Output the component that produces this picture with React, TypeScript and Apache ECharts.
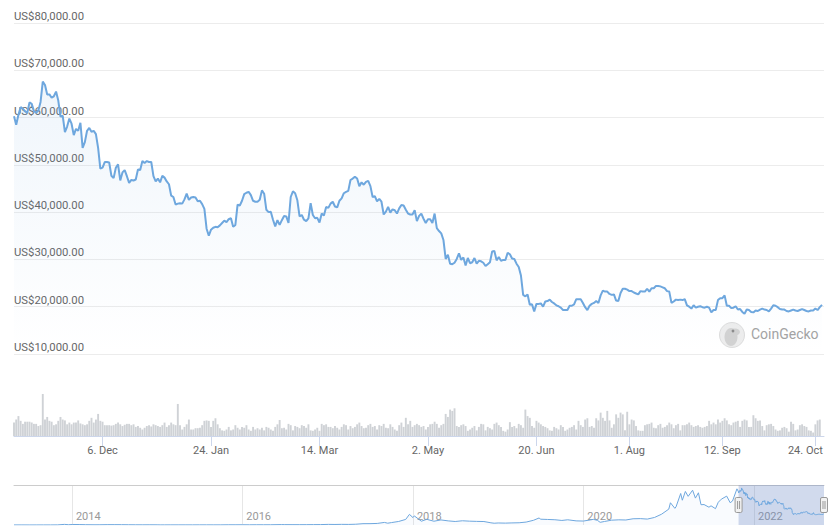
import React, { useEffect, useRef } from "react";
import * as echarts from "echarts";

// ---------- data ----------
const DAY = 86400000;
const startDate = "2021-10-27"; // first daily point
const endOffsetDays = 365.9; // axis end (latest price, late on 27 Oct 2022)

// daily BTC price in thousands USD, 27 Oct 2021 .. 27 Oct 2022
const priceK = [
  60.3, 58.5, 60.6, 62.2, 61.9, 61.3, 61.0, 63.2, 62.9, 61.4,
  61.0, 61.5, 63.3, 67.6, 66.9, 64.9, 64.9, 64.2, 64.5, 65.5,
  63.6, 60.2, 60.4, 56.9, 58.1, 59.8, 58.7, 56.3, 57.6, 57.2,
  58.9, 53.6, 54.8, 57.2, 57.8, 57.0, 57.2, 56.5, 53.6, 49.2,
  49.4, 50.6, 50.6, 50.5, 47.7, 47.2, 49.4, 50.1, 46.7, 48.4,
  48.9, 47.6, 46.2, 46.8, 46.7, 46.9, 49.0, 48.9, 50.8, 50.4,
  50.8, 50.6, 50.6, 47.6, 46.5, 47.1, 46.3, 47.7, 47.3, 46.5,
  45.9, 43.5, 43.2, 41.6, 41.8, 41.9, 41.8, 42.7, 43.9, 42.6,
  43.1, 43.2, 43.1, 42.3, 42.4, 41.7, 40.7, 36.5, 35.0, 36.3,
  36.7, 36.9, 36.8, 37.2, 37.7, 38.2, 37.9, 38.5, 38.7, 36.9,
  37.3, 41.6, 41.4, 42.4, 43.8, 44.1, 44.3, 43.6, 42.4, 42.2,
  42.2, 42.6, 44.6, 43.9, 40.5, 40.0, 40.1, 38.4, 37.0, 38.3,
  37.3, 38.3, 39.2, 39.1, 37.7, 43.2, 44.4, 44.0, 42.5, 39.1,
  39.4, 38.4, 38.1, 38.7, 41.9, 39.4, 38.7, 38.8, 37.8, 39.7,
  39.3, 41.1, 40.9, 41.8, 42.2, 41.2, 41.0, 42.4, 42.9, 44.0,
  44.3, 44.5, 46.8, 47.1, 47.5, 47.1, 45.5, 46.3, 45.8, 46.4,
  46.6, 45.5, 43.2, 43.4, 42.3, 42.8, 42.2, 39.5, 40.1, 41.1,
  39.9, 40.6, 40.4, 39.7, 40.8, 41.5, 41.4, 40.5, 39.7, 39.5,
  39.5, 40.4, 38.1, 39.2, 39.7, 38.6, 37.7, 38.5, 38.5, 37.7,
  39.7, 36.6, 36.0, 35.5, 34.1, 30.1, 31.0, 29.1, 29.0, 29.3,
  30.1, 31.3, 29.9, 30.4, 28.7, 30.3, 29.2, 29.4, 30.3, 29.1,
  29.7, 29.6, 29.3, 28.6, 29.0, 29.4, 31.7, 31.8, 29.8, 30.5,
  29.7, 29.9, 29.9, 31.4, 31.1, 30.2, 30.1, 29.1, 28.4, 26.6,
  22.5, 22.2, 22.6, 20.4, 20.5, 19.0, 20.6, 20.6, 20.7, 20.0,
  21.1, 21.2, 21.5, 21.0, 20.7, 20.3, 20.1, 19.8, 19.3, 19.3,
  19.3, 20.2, 20.2, 20.5, 21.6, 21.6, 21.6, 20.8, 19.9, 19.3,
  20.2, 20.6, 20.8, 21.2, 20.8, 22.4, 23.4, 23.2, 23.2, 22.7,
  22.5, 22.6, 21.3, 21.2, 22.9, 23.8, 23.8, 23.6, 23.3, 23.3,
  23.0, 22.8, 22.6, 23.3, 23.2, 23.2, 23.8, 23.2, 23.9, 23.9,
  24.4, 24.4, 24.3, 24.1, 23.9, 23.3, 23.2, 20.8, 21.1, 21.5,
  21.4, 21.5, 21.4, 21.6, 20.3, 20.0, 19.6, 20.3, 19.8, 20.0,
  20.1, 19.9, 19.8, 20.0, 19.8, 18.8, 19.3, 19.3, 21.4, 21.8,
  21.8, 22.4, 20.2, 20.2, 19.7, 19.8, 20.1, 19.4, 19.5, 18.9,
  18.5, 19.4, 19.3, 18.9, 18.8, 19.2, 19.1, 19.4, 19.6, 19.4,
  19.3, 19.0, 19.6, 20.3, 20.2, 19.9, 19.5, 19.4, 19.4, 19.1,
  19.0, 19.2, 19.4, 19.2, 19.1, 19.3, 19.5, 19.3, 19.1, 19.0,
  19.2, 19.2, 19.6, 19.3, 19.9, 20.4,
];

// daily volume in billions USD (same dates)
const volumeBn = [
  31, 38, 46, 35, 28, 33, 33, 33, 31, 28,
  28, 23, 25, 97, 38, 44, 35, 33, 25, 27,
  35, 44, 38, 36, 27, 31, 27, 31, 31, 36,
  29, 27, 25, 27, 35, 42, 31, 38, 51, 35,
  33, 25, 25, 25, 24, 25, 28, 31, 27, 23,
  26, 28, 28, 25, 27, 21, 23, 19, 15, 19,
  23, 25, 22, 27, 25, 23, 21, 25, 31, 21,
  25, 31, 27, 25, 74, 25, 15, 21, 27, 38,
  15, 15, 18, 18, 19, 25, 35, 36, 35, 21,
  35,
  41, 27, 18, 13, 12, 15, 21, 13, 15, 25,
  19, 15, 21, 19, 25, 15, 12, 21, 15, 18, 15, 19,
  13, 21, 19, 15, 12, 21, 27, 37, 18, 19,
  15, 28, 25, 13, 23, 21, 18, 25, 23, 19,
  27, 13, 12, 15, 19, 12, 28, 25, 27, 21,
  21, 18, 23, 19, 15, 21, 27, 25, 15, 23, 18, 21,
  27, 31, 23, 18, 19, 25, 28, 21, 23, 15,
  25, 23, 28, 19, 18, 27, 21, 15, 12, 25,
  31, 21, 42, 27, 35, 21, 25,
  28, 25, 21, 23, 15, 21, 27, 28, 33, 28, 19,
  25, 28, 51, 44, 61, 58, 64, 23, 21, 25, 27,
  23, 12, 15, 19, 23, 13, 21, 28, 27, 13,
  21, 18, 15, 28, 31, 25, 21, 12, 10, 15, 32, 21,
  23, 18, 28, 25, 19, 61, 46, 42, 23, 19,
  35, 31, 27, 23, 21, 18, 13, 12, 21, 18,
  15, 25, 21, 12, 15, 19, 21, 25, 15, 35, 25, 21, 38,
  41, 21, 23, 19, 41, 36, 54, 42, 35, 58,
  36, 19, 27, 50, 42,
  54, 50, 13, 56, 27, 38, 36, 23, 13, 12,
  12, 25, 27, 28, 31, 19, 18, 25, 28, 19,
  21, 25, 31, 27, 18, 25, 28, 13, 25, 25, 27, 31,
  25, 21, 23, 25, 21, 19, 21, 23, 35, 27,
  31, 27, 38, 31, 35, 41, 36, 27, 25, 31, 33, 35,
  21, 35, 38, 36, 21, 21, 48, 41, 35, 36,
  23, 13, 25, 27, 28, 23, 15, 12, 13, 19,
  21, 18, 10, 33, 28, 13, 15, 25, 27, 23,
  21, 13, 12, 8, 27, 36, 38,
];

// long history for the navigator (USD)
const historyDates = [
  "2013-04-28", "2013-06-01", "2013-07-05", "2013-08-01", "2013-09-01", "2013-10-01", "2013-11-01", "2013-11-30", "2013-12-18",
  "2014-01-05", "2014-02-01", "2014-03-01", "2014-04-10", "2014-05-01", "2014-06-01", "2014-07-01", "2014-08-01", "2014-09-01", "2014-10-01", "2014-11-01", "2014-12-01",
  "2015-01-01", "2015-01-14", "2015-02-01", "2015-03-01", "2015-04-01", "2015-05-01", "2015-06-01", "2015-07-01", "2015-08-01", "2015-09-01", "2015-10-01", "2015-11-04", "2015-12-01",
  "2016-01-01", "2016-02-01", "2016-03-01", "2016-04-01", "2016-05-01", "2016-06-16", "2016-07-01", "2016-08-01", "2016-09-01", "2016-10-01", "2016-11-01", "2016-12-01",
  "2017-01-04", "2017-02-01", "2017-03-01", "2017-04-01", "2017-05-01", "2017-06-01", "2017-07-01", "2017-08-01", "2017-09-01", "2017-09-15", "2017-10-01", "2017-11-01", "2017-12-01", "2017-12-17",
  "2018-01-01", "2018-01-07", "2018-02-06", "2018-03-01", "2018-04-01", "2018-05-01", "2018-06-01", "2018-07-01", "2018-08-01", "2018-09-01", "2018-10-01", "2018-11-01", "2018-12-01", "2018-12-15",
  "2019-01-01", "2019-02-01", "2019-03-01", "2019-04-01", "2019-05-01", "2019-06-01", "2019-06-26", "2019-07-01", "2019-08-01", "2019-09-01", "2019-10-01", "2019-10-26", "2019-11-01", "2019-12-01",
  "2020-01-01", "2020-02-01", "2020-02-13", "2020-03-01", "2020-03-13", "2020-04-01", "2020-05-01", "2020-06-01", "2020-07-01", "2020-08-01", "2020-09-01", "2020-10-01", "2020-11-01", "2020-12-01",
  "2021-01-01", "2021-01-08", "2021-01-27", "2021-02-01", "2021-02-21", "2021-02-28", "2021-03-13", "2021-03-25", "2021-04-13", "2021-04-25", "2021-05-08", "2021-05-19", "2021-06-01", "2021-06-22", "2021-07-01", "2021-07-20", "2021-08-01", "2021-08-14", "2021-09-06", "2021-09-21", "2021-10-01", "2021-10-20",
];
const historyPrices = [
  135, 129, 68, 105, 138, 132, 206, 1130, 520,
  950, 830, 560, 380, 450, 630, 640, 590, 480, 390, 340, 380,
  320, 180, 220, 250, 245, 235, 225, 260, 285, 230, 240, 400, 380,
  435, 370, 435, 415, 450, 760, 675, 625, 575, 610, 700, 745,
  1130, 970, 1190, 1080, 1420, 2400, 2480, 2870, 4700, 3300, 4400, 6450, 10200, 19400,
  13600, 16600, 6900, 10400, 6900, 9250, 7500, 6400, 7700, 7000, 6600, 6350, 4000, 3250,
  3700, 3450, 3820, 4100, 5350, 8550, 12900, 10600, 10100, 9600, 8300, 9500, 9200, 7550,
  7200, 9350, 10300, 8550, 4900, 6450, 8800, 9450, 9150, 11350, 11650, 10800, 13800, 19700,
  29000, 40600, 30400, 33100, 57500, 45200, 61200, 52300, 63500, 49100, 58800, 37000, 37300, 32500, 35000, 29800, 41500, 47100, 52700, 40700, 43800, 66000,
];

const dateTicks = ["2021-12-06", "2022-01-24", "2022-03-14", "2022-05-02", "2022-06-20", "2022-08-01", "2022-09-12", "2022-10-24"];
const navigatorYears = [2014, 2016, 2018, 2020, 2022];
const monthNames = ["Jan", "Feb", "Mar", "Apr", "May", "Jun", "Jul", "Aug", "Sep", "Oct", "Nov", "Dec"];
const priceTicks = { min: 10000, max: 80000, interval: 10000 };

// ---------- helpers ----------
const utc = (s: string) => {
  const [y, m, d] = s.split("-").map(Number);
  return Date.UTC(y, m - 1, d);
};

const LINE = "#6ea7de";
const FONT = "Roboto, 'Open Sans', sans-serif";

export default function App() {
  const ref = useRef<HTMLDivElement>(null);

  useEffect(() => {
    if (!ref.current) return;
    const chart = echarts.init(ref.current, null, { renderer: "svg" });

    const START = utc(startDate);
    const END = START + endOffsetDays * DAY;
    const NAV_START = utc(historyDates[0]);

    const priceData = priceK.map((v, i) => [START + i * DAY, Math.round(v * 1000)]);
    const volData = volumeBn.map((v, i) => [START + i * DAY, v]);
    const navData = historyDates
      .map((d, i) => [utc(d), historyPrices[i]])
      .concat(priceData);
    const tickTs = dateTicks.map(utc);
    const lastTick = tickTs[tickTs.length - 1];
    const navTs = navigatorYears.map((y) => Date.UTC(y, 0, 1));
    const volMax = Math.max(...volumeBn);
    const navMax = 73000;

    chart.setOption({
      animation: false,
      backgroundColor: "#ffffff",
      grid: [
        { left: 14, right: 10, top: 23, height: 331, outerBoundsMode: "none" },
        { left: 14, right: 10, top: 394, height: 42, outerBoundsMode: "none" },
        { left: 14, right: 10, top: 485, height: 40, outerBoundsMode: "none" },
      ],
      xAxis: [
        {
          type: "value",
          gridIndex: 0,
          min: START,
          max: END,
          axisLine: { show: false },
          axisTick: { show: false },
          axisLabel: { show: false },
          splitLine: { show: false },
        },
        {
          type: "value",
          gridIndex: 1,
          min: START,
          max: END,
          axisLine: { show: true, onZero: false, lineStyle: { color: "#ccd6eb", width: 1 } },
          axisTick: { show: true, customValues: tickTs, length: 10, lineStyle: { color: "#ccd6eb" } },
          axisLabel: {
            customValues: tickTs,
            margin: 9,
            color: "#666666",
            fontSize: 11,
            fontFamily: FONT,
            formatter: (v: number) => {
              const d = new Date(v);
              const s = `${d.getUTCDate()}. ${monthNames[d.getUTCMonth()]}`;
              return v === lastTick ? `{edge|${s}}` : s;
            },
            rich: {
              edge: { padding: [0, 20, 0, 0], color: "#666666", fontSize: 11, fontFamily: FONT },
            },
          },
          splitLine: { show: false },
        },
        {
          type: "value",
          gridIndex: 2,
          min: NAV_START,
          max: END,
          position: "top",
          axisLine: { show: true, onZero: false, lineStyle: { color: "#cccccc", width: 1 } },
          axisTick: { show: false, customValues: navTs },
          axisLabel: {
            customValues: navTs,
            inside: true,
            margin: 26,
            align: "left",
            padding: [0, 0, 0, 4],
            color: "#999999",
            fontSize: 11,
            fontFamily: FONT,
            formatter: (v: number) => String(new Date(v).getUTCFullYear()),
          },
          splitLine: { show: true, lineStyle: { color: "#e6e6e6", width: 1 } },
        },
      ],
      yAxis: [
        {
          type: "value",
          gridIndex: 0,
          min: priceTicks.min,
          max: priceTicks.max,
          interval: priceTicks.interval,
          axisLine: { show: false },
          axisTick: { show: false },
          splitLine: { show: true, lineStyle: { color: "#ececec", width: 1 } },
          axisLabel: {
            inside: true,
            margin: 0,
            verticalAlign: "bottom",
            padding: [0, 0, 1, 0],
            color: "#666666",
            fontSize: 11.3,
            fontFamily: FONT,
            formatter: (v: number) =>
              "US$" + v.toLocaleString("en-US", { minimumFractionDigits: 2, maximumFractionDigits: 2 }),
          },
        },
        { type: "value", gridIndex: 1, min: 0, max: volMax, show: false, splitLine: { show: false } },
        { type: "value", gridIndex: 2, min: 0, max: navMax, show: false, splitLine: { show: false } },
      ],
      series: [
        {
          type: "line",
          xAxisIndex: 0,
          yAxisIndex: 0,
          data: priceData,
          showSymbol: false,
          symbol: "none",
          lineStyle: { color: LINE, width: 2 },
          areaStyle: {
            color: new echarts.graphic.LinearGradient(0, 0, 0, 1, [
              { offset: 0, color: "rgba(110,167,222,0.15)" },
              { offset: 1, color: "rgba(110,167,222,0.0)" },
            ]),
          },
          z: 3,
        },
        {
          type: "bar",
          xAxisIndex: 1,
          yAxisIndex: 1,
          data: volData,
          barWidth: 1.9,
          itemStyle: { color: "#cfd2d6" },
        },
        {
          type: "line",
          xAxisIndex: 2,
          yAxisIndex: 2,
          data: navData,
          showSymbol: false,
          symbol: "none",
          lineStyle: { color: LINE, width: 1 },
          areaStyle: { color: "rgba(110,167,222,0.06)" },
          markArea: {
            silent: true,
            itemStyle: { color: "rgba(102,133,194,0.3)" },
            data: [[{ xAxis: START }, { xAxis: END }]],
          },
        },
        {
          type: "custom",
          xAxisIndex: 2,
          yAxisIndex: 2,
          silent: true,
          z: 10,
          data: [
            [START, navMax / 2],
            [END, navMax / 2],
          ],
          renderItem: (_params: any, api: any) => {
            const p = api.coord([api.value(0), api.value(1)]);
            return {
              type: "group",
              children: [
                {
                  type: "rect",
                  shape: { x: p[0] - 3.5, y: p[1] - 7.5, width: 7, height: 15, r: 1.5 },
                  style: { fill: "#f2f2f2", stroke: "#999999", lineWidth: 1 },
                },
                {
                  type: "line",
                  shape: { x1: p[0] - 1, y1: p[1] - 4, x2: p[0] - 1, y2: p[1] + 4 },
                  style: { stroke: "#999999", lineWidth: 1 },
                },
                {
                  type: "line",
                  shape: { x1: p[0] + 1, y1: p[1] - 4, x2: p[0] + 1, y2: p[1] + 4 },
                  style: { stroke: "#999999", lineWidth: 1 },
                },
              ],
            };
          },
        },
      ],
      graphic: [
        {
          type: "group",
          x: 732,
          y: 335,
          silent: true,
          children: [
            { type: "circle", shape: { cx: 0, cy: 0, r: 12.5 }, style: { fill: "#ededed", stroke: "#dcdcdc", lineWidth: 1 } },
            { type: "ellipse", shape: { cx: -1, cy: 2, rx: 6.5, ry: 9 }, style: { fill: "#d2d2d2" } },
            { type: "ellipse", shape: { cx: 3, cy: -3, rx: 5, ry: 3.5 }, style: { fill: "#d2d2d2" } },
            { type: "circle", shape: { cx: 1, cy: -4, r: 1.4 }, style: { fill: "#8c8c8c" } },
          ],
        },
        {
          type: "text",
          x: 751,
          y: 334,
          silent: true,
          style: {
            text: "CoinGecko",
            fill: "#a3a3a3",
            fontSize: 14,
            fontFamily: FONT,
            verticalAlign: "middle",
            align: "left",
          },
        },
      ],
    });

    return () => chart.dispose();
  }, []);

  return <div ref={ref} style={{ position: "absolute", left: 0, top: 0, width: 834, height: 532 }} />;
}
